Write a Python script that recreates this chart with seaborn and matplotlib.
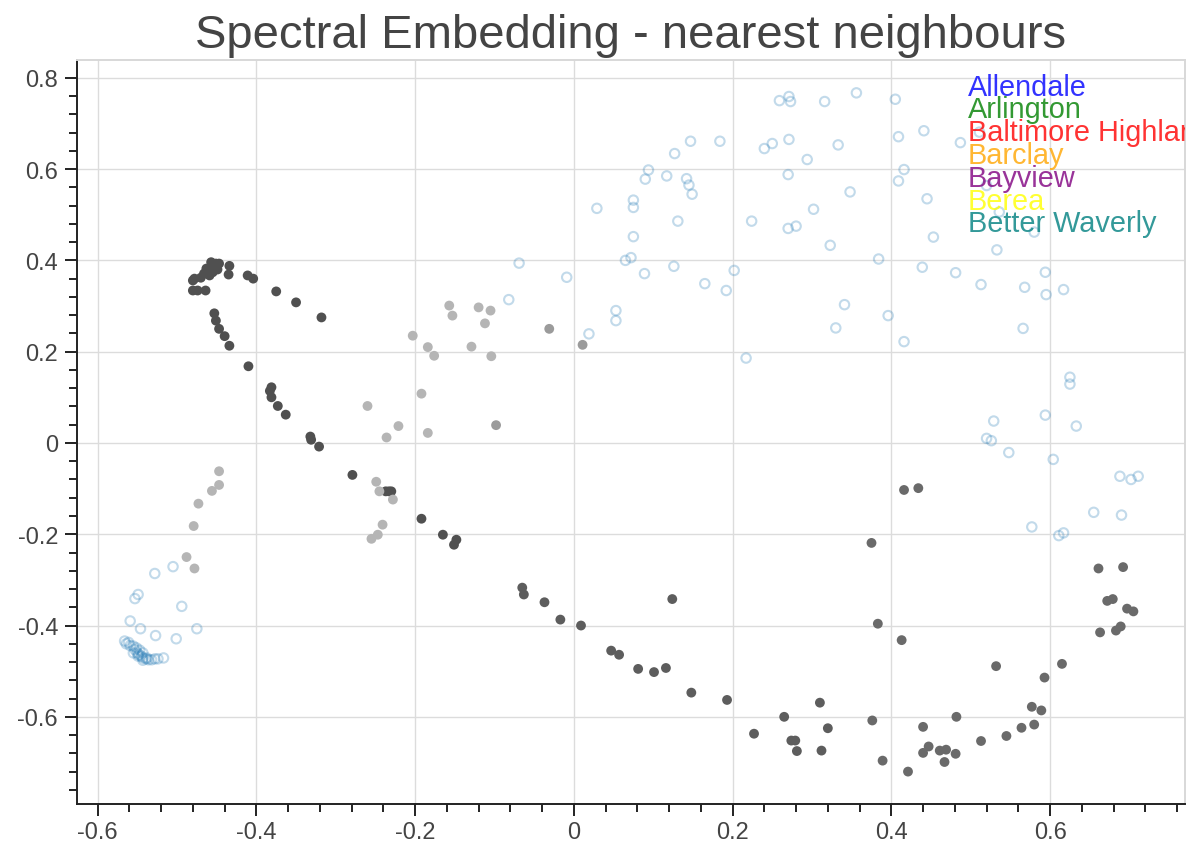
import numpy as np
import pandas as pd
import matplotlib
matplotlib.use("Agg")
import matplotlib.pyplot as plt
from matplotlib.ticker import MultipleLocator, AutoMinorLocator, FuncFormatter
import seaborn as sns

# ---- embedding coordinates -------------------------------------------------
# filled points, grouped by shade
dark_x = [-0.457, -0.451, -0.463, -0.455, -0.447, -0.466, -0.459, -0.453, -0.434, -0.435,
          -0.478, -0.480, -0.480, -0.474, -0.464, -0.411, -0.404, -0.375, -0.350, -0.318,
          -0.453, -0.451, -0.447, -0.440, -0.434, -0.410, -0.381, -0.383, -0.381, -0.373,
          -0.363, -0.332, -0.331, -0.321, -0.279, -0.237, -0.233, -0.230, -0.192, -0.165,
          -0.148, -0.151, -0.462, -0.449, -0.470]
dark_y = [0.396, 0.393, 0.382, 0.374, 0.393, 0.371, 0.367, 0.385, 0.388, 0.369,
          0.360, 0.356, 0.334, 0.334, 0.334, 0.367, 0.360, 0.332, 0.308, 0.275,
          0.284, 0.268, 0.250, 0.234, 0.213, 0.168, 0.122, 0.114, 0.100, 0.081,
          0.062, 0.014, 0.007, -0.008, -0.070, -0.106, -0.106, -0.106, -0.166, -0.201,
          -0.212, -0.223, 0.378, 0.380, 0.362]

mid_x = [-0.065, -0.063, -0.037, -0.017, 0.009, 0.047, 0.057, 0.081, 0.101, 0.116,
         0.124, 0.148, 0.193, 0.227, 0.265, 0.274, 0.279, 0.281, 0.310, 0.320, 0.312]
mid_y = [-0.317, -0.332, -0.349, -0.387, -0.400, -0.455, -0.464, -0.495, -0.502, -0.493,
         -0.342, -0.547, -0.563, -0.637, -0.600, -0.652, -0.652, -0.675, -0.569, -0.625, -0.674]

dim_x = [0.416, 0.434, 0.375, 0.383, 0.413, 0.376, 0.389, 0.421, 0.440, 0.447,
         0.440, 0.461, 0.469, 0.467, 0.481, 0.482, 0.513, 0.545, 0.564, 0.580,
         0.577, 0.589, 0.532, 0.593, 0.615, 0.661, 0.692, 0.672, 0.679, 0.697,
         0.705, 0.663, 0.683, 0.689]
dim_y = [-0.103, -0.099, -0.219, -0.396, -0.432, -0.608, -0.696, -0.720, -0.622, -0.665,
         -0.679, -0.674, -0.672, -0.699, -0.681, -0.600, -0.653, -0.642, -0.624, -0.617,
         -0.578, -0.586, -0.489, -0.514, -0.484, -0.275, -0.272, -0.346, -0.342, -0.363,
         -0.369, -0.415, -0.411, -0.402]

grey_x = [-0.031, 0.011, -0.098]
grey_y = [0.250, 0.215, 0.039]

light_x = [-0.203, -0.184, -0.176, -0.157, -0.153, -0.120, -0.105, -0.112, -0.129, -0.104,
           -0.192, -0.260, -0.221, -0.236, -0.184, -0.447, -0.447, -0.456, -0.473, -0.479,
           -0.249, -0.245, -0.228, -0.241, -0.247, -0.255, -0.488, -0.478]
light_y = [0.235, 0.210, 0.191, 0.301, 0.279, 0.297, 0.290, 0.262, 0.211, 0.190,
           0.108, 0.081, 0.037, 0.012, 0.022, -0.062, -0.092, -0.105, -0.133, -0.182,
           -0.085, -0.106, -0.124, -0.179, -0.201, -0.210, -0.250, -0.275]

# hollow points
ring_x = [-0.505, -0.528, -0.549, -0.553, -0.494, -0.559, -0.546, -0.475, -0.527, -0.501,
          -0.566, -0.564, -0.561, -0.559, -0.555, -0.553, -0.550, -0.548, -0.545, -0.543,
          -0.539, -0.536, -0.532, -0.528, -0.524, -0.517, -0.551, -0.547, -0.543, -0.555,
          -0.549, -0.543, -0.538,
          0.259, 0.271, 0.273, 0.316, 0.356, 0.405,
          0.147, 0.184, 0.127, 0.240, 0.250, 0.271, 0.333, 0.294,
          0.409, 0.441, 0.487, 0.511,
          0.094, 0.090, 0.117, 0.142, 0.145, 0.149, 0.270, 0.416, 0.409, 0.520,
          0.029, 0.075, 0.075, 0.131, 0.224, 0.270, 0.280, 0.302, 0.348, 0.445, 0.536,
          0.075, 0.323, 0.453, 0.533, 0.580,
          0.065, 0.072, 0.089, 0.126, 0.165, 0.192, 0.202, 0.384, 0.439, 0.481, 0.513,
          0.568, 0.594, 0.595, 0.617,
          0.053, 0.053, 0.019, 0.217, 0.341, 0.330, 0.396, 0.416, 0.566,
          0.625, 0.625, 0.594, 0.529, 0.633, 0.520, 0.526, 0.548, 0.604,
          0.688, 0.702, 0.711, 0.655, 0.690, 0.577, 0.611, 0.617,
          -0.009, -0.069, -0.082]
ring_y = [-0.271, -0.286, -0.332, -0.341, -0.358, -0.390, -0.407, -0.407, -0.422, -0.429,
          -0.434, -0.440, -0.437, -0.444, -0.445, -0.453, -0.460, -0.464, -0.467, -0.471,
          -0.473, -0.475, -0.475, -0.473, -0.473, -0.471, -0.449, -0.454, -0.460, -0.460,
          -0.467, -0.476, -0.471,
          0.750, 0.759, 0.748, 0.748, 0.767, 0.753,
          0.661, 0.661, 0.634, 0.645, 0.656, 0.665, 0.653, 0.621,
          0.671, 0.684, 0.658, 0.681,
          0.598, 0.578, 0.585, 0.579, 0.565, 0.545, 0.588, 0.599, 0.574, 0.564,
          0.514, 0.532, 0.516, 0.486, 0.486, 0.470, 0.475, 0.512, 0.550, 0.535, 0.506,
          0.452, 0.433, 0.451, 0.423, 0.462,
          0.400, 0.406, 0.371, 0.387, 0.349, 0.334, 0.378, 0.403, 0.385, 0.373, 0.347,
          0.341, 0.374, 0.325, 0.336,
          0.290, 0.268, 0.239, 0.186, 0.303, 0.252, 0.279, 0.222, 0.251,
          0.144, 0.129, 0.061, 0.048, 0.037, 0.010, 0.005, -0.021, -0.036,
          -0.073, -0.080, -0.073, -0.152, -0.158, -0.184, -0.203, -0.197,
          0.363, 0.394, 0.314]

neighbourhoods = ["Allendale", "Arlington", "Baltimore Highlands", "Barclay",
                  "Bayview", "Berea", "Better Waverly"]
neighbourhood_colors = ["blue", "green", "red", "orange", "purple", "yellow", "teal"]

# ---- build tables ----------------------------------------------------------
filled = pd.concat([
    pd.DataFrame({"x": dark_x, "y": dark_y, "tone": "dark"}),
    pd.DataFrame({"x": mid_x, "y": mid_y, "tone": "mid"}),
    pd.DataFrame({"x": dim_x, "y": dim_y, "tone": "dim"}),
    pd.DataFrame({"x": grey_x, "y": grey_y, "tone": "grey"}),
    pd.DataFrame({"x": light_x, "y": light_y, "tone": "light"}),
], ignore_index=True)
rings = pd.DataFrame({"x": ring_x, "y": ring_y})

tone_palette = {"dark": "#505050", "mid": "#5d5d5d", "dim": "#6a6a6a",
                "grey": "#9b9b9b", "light": "#b5b5b5"}

# ---- figure ----------------------------------------------------------------
sns.set_theme(style="white")
plt.rcParams["font.family"] = ["Liberation Sans", "DejaVu Sans"]
plt.rcParams["axes.unicode_minus"] = False

W, H = 1187, 845
fig = plt.figure(figsize=(W / 100, H / 100), dpi=100)
ax = fig.add_axes([77 / W, 40 / H, 1108 / W, 744 / H])

sns.scatterplot(data=rings, x="x", y="y", ax=ax, marker="o", s=46,
                facecolor="none", edgecolor="#1f77b4", linewidth=1.5,
                alpha=0.27, legend=False, zorder=3)
sns.scatterplot(data=filled, x="x", y="y", hue="tone", palette=tone_palette,
                ax=ax, s=50, linewidth=0, legend=False, zorder=4)

ax.set_xlim(-0.626, 0.770)
ax.set_ylim(-0.791, 0.839)
ax.set_xlabel("")
ax.set_ylabel("")

fmt = FuncFormatter(lambda v, _: f"{round(v, 6):g}")
ax.xaxis.set_major_locator(MultipleLocator(0.2))
ax.yaxis.set_major_locator(MultipleLocator(0.2))
ax.xaxis.set_major_formatter(fmt)
ax.yaxis.set_major_formatter(fmt)
ax.xaxis.set_minor_locator(AutoMinorLocator(5))
ax.yaxis.set_minor_locator(AutoMinorLocator(5))

ax.grid(True, which="major", color="#dcdcdc", linewidth=1.0, zorder=0)
ax.set_axisbelow(True)

for side in ("left", "bottom"):
    ax.spines[side].set_color("#222222")
    ax.spines[side].set_linewidth(1.4)
for side in ("top", "right"):
    ax.spines[side].set_color("#d8d8d8")
    ax.spines[side].set_linewidth(1.4)

ax.tick_params(axis="both", which="major", direction="out", length=8.6, width=1.4,
               color="#222222", labelsize=17, labelcolor="#444444",
               bottom=True, left=True, top=False, right=False)
ax.tick_params(axis="both", which="minor", direction="out", length=5.8, width=1.4,
               color="#222222", bottom=True, left=True, top=False, right=False)
ax.tick_params(axis="x", which="major", pad=4)
ax.tick_params(axis="y", which="major", pad=5)

ax.text(0.5, 1.0 + 13 / 744, "Spectral Embedding - nearest neighbours",
        transform=ax.transAxes, ha="center", va="baseline",
        fontsize=34, color="#444444")

# neighbourhood key, stacked in the upper right of the frame
for i, (name, col) in enumerate(zip(neighbourhoods, neighbourhood_colors)):
    ax.text(0.804, 0.9534 - i * 0.03065, name, transform=ax.transAxes,
            ha="left", va="baseline", fontsize=20.8, color=col, alpha=0.8,
            clip_on=True, zorder=6)

fig.savefig("out.png", dpi=100)
